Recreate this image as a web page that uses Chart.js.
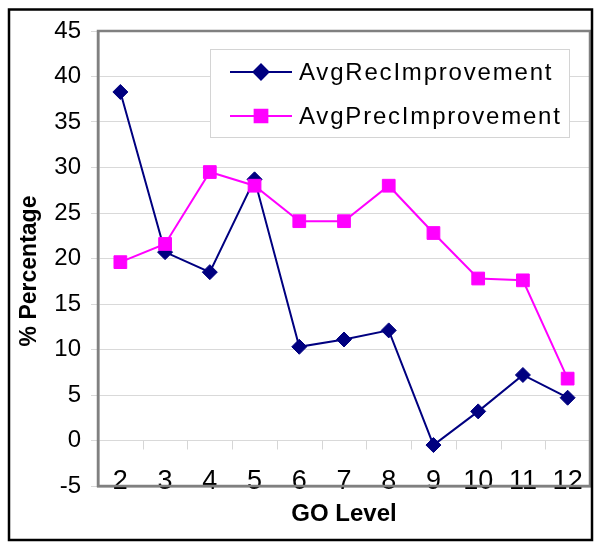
<!DOCTYPE html>
<html>
<head>
<meta charset="utf-8">
<script src="https://cdn.jsdelivr.net/npm/chart.js@4"></script>
<style>
  html, body { margin: 0; padding: 0; background: #fff; }
  canvas { display: block; }
</style>
</head>
<body>
<canvas id="goChart" width="600" height="552"></canvas>
<script>
const goLevels = ['2', '3', '4', '5', '6', '7', '8', '9', '10', '11', '12'];
const avgRecImprovement = [38.3, 20.7, 18.5, 28.7, 10.3, 11.1, 12.1, -0.5, 3.2, 7.2, 4.7];
const avgPrecImprovement = [19.6, 21.6, 29.5, 28.0, 24.1, 24.1, 28.0, 22.8, 17.8, 17.6, 6.8];
const yMin = -5;
const yMax = 45;
const yStep = 5;

const FONT = '"Liberation Sans", Arial, sans-serif';

// frame, zero-line ticks, legend box, y title and outer border
const chartDecor = {
    id: 'chartDecor',
    beforeDatasetsDraw(chart) {
        const { ctx, chartArea: a, scales: { x, y } } = chart;
        const y0 = y.getPixelForValue(0);

        ctx.save();
        ctx.strokeStyle = '#d6d6d6';
        ctx.lineWidth = 1;
        for (let i = 1; i < goLevels.length; i++) {
            const px = Math.round((x.getPixelForValue(i - 1) + x.getPixelForValue(i)) / 2) + 0.5;
            ctx.beginPath();
            ctx.moveTo(px, y0);
            ctx.lineTo(px, y0 + 9);
            ctx.stroke();
        }

        ctx.strokeStyle = '#808080';
        ctx.lineWidth = 2.5;
        ctx.strokeRect(a.left, a.top, a.right - a.left, a.bottom - a.top);
        ctx.restore();
    },
    afterDatasetsDraw(chart) {
        const { ctx, chartArea: a } = chart;
        const bx = a.right - 380, by = a.top + 18, bw = 359, bh = 88;

        ctx.save();
        ctx.fillStyle = '#fff';
        ctx.fillRect(bx, by, bw, bh);
        ctx.strokeStyle = '#d4d4d4';
        ctx.lineWidth = 1;
        ctx.strokeRect(bx + 0.5, by + 0.5, bw, bh);

        const order = [0, 1];
        order.forEach((di, row) => {
            const ds = chart.data.datasets[di];
            const cy = by + 23 + row * 44;
            ctx.strokeStyle = ds.borderColor;
            ctx.lineWidth = ds.borderWidth;
            ctx.beginPath();
            ctx.moveTo(bx + 20, cy);
            ctx.lineTo(bx + 82, cy);
            ctx.stroke();
            ctx.fillStyle = ds.pointBackgroundColor;
            Chart.helpers.drawPoint(ctx, {
                pointStyle: ds.pointStyle,
                radius: ds.pointRadius,
                borderWidth: 1,
                rotation: 0
            }, bx + 51, cy);

            ctx.fillStyle = '#000';
            ctx.font = '24px ' + FONT;
            ctx.letterSpacing = '1.8px';
            ctx.textBaseline = 'middle';
            ctx.textAlign = 'left';
            ctx.fillText(ds.label, bx + 89, cy + 1);
            ctx.letterSpacing = '0px';
        });

        // y axis title
        ctx.translate(30, 271);
        ctx.rotate(-Math.PI / 2);
        ctx.fillStyle = '#000';
        ctx.font = 'bold 23px ' + FONT;
        ctx.textAlign = 'center';
        ctx.textBaseline = 'middle';
        ctx.fillText('% Percentage', 0, 0);
        ctx.restore();
    },
    afterDraw(chart) {
        const { ctx } = chart;
        ctx.save();
        ctx.strokeStyle = '#000';
        ctx.lineWidth = 2.5;
        ctx.strokeRect(9, 9.5, 583, 530.5);
        ctx.restore();
    }
};

const ctx = document.getElementById('goChart').getContext('2d');

new Chart(ctx, {
    type: 'line',
    data: {
        labels: goLevels,
        datasets: [
            {
                label: 'AvgRecImprovement',
                data: avgRecImprovement,
                borderColor: '#000080',
                backgroundColor: '#000080',
                pointBackgroundColor: '#000080',
                pointBorderColor: '#000080',
                borderWidth: 2,
                pointStyle: 'rectRot',
                pointRadius: 7.5,
                pointBorderWidth: 1,
                tension: 0,
                order: 1
            },
            {
                label: 'AvgPrecImprovement',
                data: avgPrecImprovement,
                borderColor: '#FF00FF',
                backgroundColor: '#FF00FF',
                pointBackgroundColor: '#FF00FF',
                pointBorderColor: '#FF00FF',
                borderWidth: 2,
                pointStyle: 'rect',
                pointRadius: 9,
                pointBorderWidth: 1,
                tension: 0,
                order: 0
            }
        ]
    },
    options: {
        responsive: false,
        animation: false,
        layout: { padding: { left: 0, top: 31, right: 3, bottom: 0 } },
        plugins: {
            legend: { display: false },
            tooltip: { enabled: false }
        },
        scales: {
            x: {
                offset: true,
                grid: { display: false, drawTicks: false },
                border: { display: true, color: '#808080', width: 2.5 },
                ticks: {
                    color: '#000',
                    mirror: true,   // mirrored labels are not clipped to the axis box
                    padding: -12,
                    font: { family: FONT, size: 27 }
                },
                title: {
                    display: true,
                    text: 'GO Level',
                    color: '#000',
                    font: { family: FONT, size: 24, weight: 'bold' },
                    padding: { top: 0, bottom: 23 }
                },
                afterFit(scale) { scale.height = 66; }
            },
            y: {
                min: yMin,
                max: yMax,
                grid: { color: '#d9d9d9', lineWidth: 1, tickLength: 7 },
                border: { display: true, color: '#808080', width: 2.5 },
                ticks: {
                    stepSize: yStep,
                    color: '#000',
                    padding: 10,
                    font: { family: FONT, size: 24 }
                },
                afterFit(scale) { scale.width = 98; }
            }
        }
    },
    plugins: [chartDecor]
});
</script>
</body>
</html>
